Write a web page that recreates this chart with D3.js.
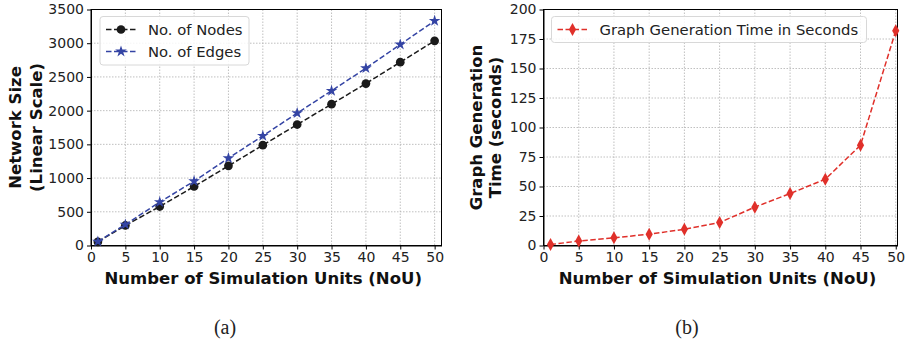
<!DOCTYPE html>
<html>
<head>
<meta charset="utf-8">
<script src="https://cdn.jsdelivr.net/npm/d3@7"></script>
<style>
  body { margin: 0; background: #fff; }
  svg { display: block; font-family: 'DejaVu Sans', sans-serif; }
  .grid line { stroke: #b0b0b0; stroke-width: 0.8; stroke-dasharray: 1.5,1.5; }
  .axis path, .axis line { stroke: #000; stroke-width: 1; }
  .axis text { fill: #222; }
  .label { font-weight: bold; font-size: 16.5px; fill: #111; }
  .legend text { font-size: 14.8px; fill: #222; }
  .caption { font-family: 'Liberation Serif', serif; font-size: 20px; fill: #222; }
</style>
</head>
<body>
<script>
// x values shared by both panels
const units = [1, 5, 10, 15, 20, 25, 30, 35, 40, 45, 50];
const nodes = [55, 297, 578, 875, 1181, 1488, 1794, 2096, 2402, 2719, 3035];
const edges = [59, 311, 643, 954, 1295, 1626, 1963, 2294, 2630, 2981, 3332];
const genTime = [0.8, 3.8, 6.5, 9.6, 13.8, 19.5, 32.5, 44, 56.2, 85, 182];

const xTicks = [0, 5, 10, 15, 20, 25, 30, 35, 40, 45, 50];
const sizeTicks = [0, 500, 1000, 1500, 2000, 2500, 3000, 3500];
const timeTicks = [0, 25, 50, 75, 100, 125, 150, 175, 200];

const W = 908, H = 342;
const svg = d3.select('body').append('svg').attr('width', W).attr('height', H);

const star = d3.symbol().type(d3.symbolStar).size(42)();
const diamond = 'M0,-6.5L3.6,0L0,6.5L-3.6,0Z';

function panel(opts) {
  const { left, right, top, bottom, xMax, yMax, yTicks, series, yLabel, yLabelX, legend, caption, captionX } = opts;
  const x = d3.scaleLinear().domain([0, xMax]).range([left, right]);
  const y = d3.scaleLinear().domain([0, yMax]).range([bottom, top]);
  const g = svg.append('g');

  // grid
  const grid = g.append('g').attr('class', 'grid');
  grid.selectAll('.gx').data(xTicks.filter(t => t > 0)).enter().append('line')
    .attr('x1', d => x(d)).attr('x2', d => x(d)).attr('y1', top).attr('y2', bottom);
  grid.selectAll('.gy').data(yTicks.filter(t => t > 0 && t < yMax)).enter().append('line')
    .attr('y1', d => y(d)).attr('y2', d => y(d)).attr('x1', left).attr('x2', right);

  // axes
  g.append('g').attr('class', 'axis').attr('transform', `translate(0,${bottom})`)
    .call(d3.axisBottom(x).tickValues(xTicks).tickFormat(d3.format('d')).tickSize(4).tickPadding(3).tickSizeOuter(0))
    .attr('font-family', 'DejaVu Sans').attr('font-size', 14);
  g.append('g').attr('class', 'axis').attr('transform', `translate(${left},0)`)
    .call(d3.axisLeft(y).tickValues(yTicks).tickFormat(d3.format('d')).tickSize(4).tickPadding(3).tickSizeOuter(0))
    .attr('font-family', 'DejaVu Sans').attr('font-size', 14);
  g.append('rect').attr('x', left).attr('y', top).attr('width', right - left).attr('height', bottom - top)
    .attr('fill', 'none').attr('stroke', '#000').attr('stroke-width', 1);

  // series
  series.forEach(s => {
    const line = d3.line().x((d, i) => x(units[i])).y(d => y(d));
    g.append('path').datum(s.values).attr('d', line).attr('fill', 'none')
      .attr('stroke', s.color).attr('stroke-width', 1.5).attr('stroke-dasharray', '5.5,2.5');
    g.selectAll(null).data(s.values).enter().append('path')
      .attr('transform', (d, i) => `translate(${x(units[i])},${y(d)})`)
      .attr('d', s.marker).attr('fill', s.color);
  });

  // legend
  const lg = g.append('g').attr('class', 'legend');
  lg.append('rect').attr('x', legend.x).attr('y', legend.y).attr('width', legend.w).attr('height', legend.h)
    .attr('rx', 3).attr('fill', 'rgba(255,255,255,0.85)').attr('stroke', '#d8d8d8');
  series.forEach((s, i) => {
    const ly = legend.y + 13 + i * 22;
    lg.append('line').attr('x1', legend.x + 6).attr('x2', legend.x + 36).attr('y1', ly).attr('y2', ly)
      .attr('stroke', s.color).attr('stroke-width', 1.5).attr('stroke-dasharray', '5.5,2.5');
    lg.append('path').attr('transform', `translate(${legend.x + 21},${ly})`).attr('d', s.marker).attr('fill', s.color);
    lg.append('text').attr('x', legend.x + 48).attr('y', ly).attr('dy', '0.35em').text(s.name);
  });

  // labels
  g.append('text').attr('class', 'label').attr('x', (left + right) / 2 - 3).attr('y', 284)
    .attr('text-anchor', 'middle').text('Number of Simulation Units (NoU)');
  yLabel.forEach((t, i) => {
    g.append('text').attr('class', 'label')
      .attr('transform', `translate(${yLabelX[i]},${(top + bottom) / 2}) rotate(-90)`)
      .attr('text-anchor', 'middle').attr('dy', '0.35em').text(t);
  });
  g.append('text').attr('class', 'caption').attr('x', captionX).attr('y', 334)
    .attr('text-anchor', 'middle').text(caption);
}

panel({
  left: 91, right: 441.5, top: 9.5, bottom: 245.5, xMax: 51, yMax: 3500, yTicks: sizeTicks,
  series: [
    { name: 'No. of Nodes', values: nodes, color: '#1a1a1a', marker: d3.symbol().type(d3.symbolCircle).size(60)() },
    { name: 'No. of Edges', values: edges, color: '#3444a4', marker: star }
  ],
  yLabel: ['Network Size', '(Linear Scale)'], yLabelX: [15, 36],
  legend: { x: 100, y: 16.5, w: 149, h: 48.5 },
  caption: '(a)', captionX: 225
});

panel({
  left: 543.5, right: 897.5, top: 9.5, bottom: 245.5, xMax: 50.25, yMax: 200, yTicks: timeTicks,
  series: [
    { name: 'Graph Generation Time in Seconds', values: genTime, color: '#e0302a', marker: diamond }
  ],
  yLabel: ['Graph Generation', 'Time (seconds)'], yLabelX: [476, 495],
  legend: { x: 551.5, y: 16.5, w: 315, h: 26 },
  caption: '(b)', captionX: 687
});
</script>
</body>
</html>
